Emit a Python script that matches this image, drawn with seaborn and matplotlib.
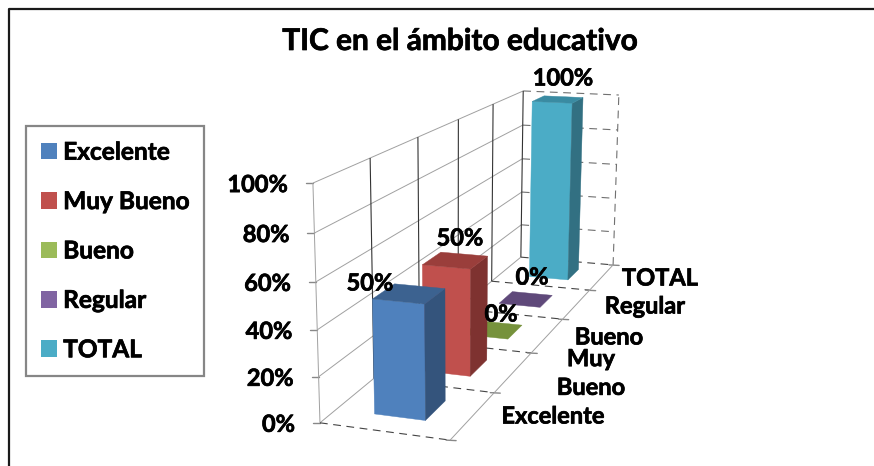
import numpy as np
import seaborn as sns
import matplotlib
matplotlib.use("Agg")
import matplotlib.pyplot as plt
import matplotlib.patheffects as pe
from matplotlib.patches import Polygon, Patch

categories = ["Excelente", "Muy Bueno", "Bueno", "Regular", "TOTAL"]
values = [0.5, 0.5, 0.0, 0.0, 1.0]
value_labels = ["50%", "50%", "0%", "0%", "100%"]
z_ticks = [0.0, 0.2, 0.4, 0.6, 0.8, 1.0]
z_tick_labels = ["0%", "20%", "40%", "60%", "80%", "100%"]

front_colors = ["#4F81BD", "#C0504D", "#9BBB59", "#8064A2", "#4BACC6"]
side_colors = ["#34547C", "#7E3230", "#657B39", "#54426B", "#327082"]
top_colors = ["#3C6290", "#9A3E3B", "#76923C", "#5F497A", "#3A8BA2"]

sns.set_theme(style="white")
plt.rcParams["font.family"] = ["Lato", "DejaVu Sans"]
plt.rcParams["text.color"] = "black"

# Lato bold is a bit lighter than the original, thicken it slightly
thick = [pe.withStroke(linewidth=0.5, foreground="black")]

# box corners (x, depth, z) -> where they sit on the picture, used to fit the 3d view
box_corners = [(0, 0, 0), (1, 0, 0), (1, 5, 0), (0, 5, 0), (0, 0, 1), (0, 5, 1), (1, 5, 1)]
box_pixels = [(320, 423), (450, 440), (613, 265), (521, 257), (313, 183), (523, 91), (619, 95)]

rows = []
rhs = []
for (x, y, z), (u, v) in zip(box_corners, box_pixels):
    rows.append([x, y, z, 1, 0, 0, 0, 0, -u * x, -u * y, -u * z])
    rows.append([0, 0, 0, 0, x, y, z, 1, -v * x, -v * y, -v * z])
    rhs += [u, v]
P = np.linalg.lstsq(np.array(rows, float), np.array(rhs, float), rcond=None)[0]
P = np.append(P, 1).reshape(3, 4)


def project(x, y, z):
    p = P @ np.array([x, y, z, 1.0])
    return p[0] / p[2], p[1] / p[2]


fig = plt.figure(figsize=(8.74, 4.66), dpi=100)
ax = fig.add_axes([0, 0, 1, 1])
ax.set_xlim(0, 874)
ax.set_ylim(466, 0)
ax.axis("off")


def line3d(a, b, **kw):
    pa, pb = project(*a), project(*b)
    ax.plot([pa[0], pb[0]], [pa[1], pb[1]], solid_capstyle="butt", **kw)


def face(pts, color, zorder):
    ax.add_patch(Polygon([project(*p) for p in pts], closed=True, facecolor=color,
                         edgecolor=color, lw=0.3, zorder=zorder))


# outer frame, only top and left show
ax.plot([9, 9, 874], [466, 9, 9], color="#1a1a1a", lw=1.6)

# walls
wall = dict(color="#a0a0a0", lw=0.7, zorder=1)
dash = dict(color="#707070", lw=0.8, ls=(0, (7, 5)), zorder=1)
for z in z_ticks:
    line3d((0, 0, z), (0, 5, z), **wall)
    if z > 0:
        line3d((0, 5, z), (1, 5, z), **dash)
    # ticks on the value axis
    px, py = project(0, 0, z)
    ax.plot([px - 7, px], [py, py], color="#888888", lw=1, zorder=1)
for d in range(1, 6):
    line3d((0, d, 0), (0, d, 1), color="#333333", lw=0.8, zorder=1)
line3d((1, 5, 0), (1, 5, 1), **dash)
line3d((0, 0, 0), (0, 0, 1), **wall)

# floor
for d in range(0, 6):
    line3d((0, d, 0), (1, d, 0), color="#444444", lw=0.8, ls=(0, (7, 5)), zorder=1)
    px, py = project(1, d, 0)
    ax.plot([px - 4, px + 6], [py, py + 0.5], color="#888888", lw=1, zorder=1)
line3d((1, 0, 0), (1, 5, 0), **wall)

# bars, back to front
x0, x1 = 0.305, 0.705
label_pos = [(370, 283), (460, 238), (501, 314), (532, 277), (563, 78)]
for i in range(len(values) - 1, -1, -1):
    v = values[i]
    y0, y1 = i + 0.29, i + 0.71
    zo = 10 + (len(values) - i)
    if v > 0:
        face([(x0, y0, 0), (x1, y0, 0), (x1, y0, v), (x0, y0, v)], front_colors[i], zo)
        face([(x1, y0, 0), (x1, y1, 0), (x1, y1, v), (x1, y0, v)], side_colors[i], zo)
    face([(x0, y0, v), (x1, y0, v), (x1, y1, v), (x0, y1, v)], top_colors[i], zo)
    ax.text(label_pos[i][0], label_pos[i][1], value_labels[i], ha="center", va="center",
            fontsize=17, fontweight="bold", color="black", zorder=30, path_effects=thick)

# value axis labels
for z, lab in zip(z_ticks, z_tick_labels):
    px, py = project(0, 0, z)
    ax.text(px - 25, py + 1.5, lab, ha="right", va="center", fontsize=17, fontweight="bold",
            color="black", path_effects=thick)

# category labels on the floor edge
cat_pos = [(553, 416), (591, 373), (609, 337), (645, 306), (660, 278)]
cat_text = ["Excelente", "Muy\nBueno", "Bueno", "Regular", "TOTAL"]
for (cx, cy), lab in zip(cat_pos, cat_text):
    ax.text(cx, cy, lab, ha="center", va="center", fontsize=17, fontweight="bold",
            color="black", linespacing=1.3, path_effects=thick)

ax.text(460, 41, "TIC en el ámbito educativo", ha="center", va="center", fontsize=21.5,
        fontweight="bold", color="black", path_effects=thick)

handles = [Patch(facecolor=c, edgecolor="none", label=n) for c, n in zip(front_colors, categories)]
leg = ax.legend(handles=handles, loc="upper left", bbox_to_anchor=(26 / 874, 1 - 126 / 466),
                borderaxespad=0, fancybox=False, edgecolor="#868686", framealpha=1,
                prop=dict(family="Lato", weight="bold", size=17.6), labelspacing=1.08,
                handlelength=0.68, handleheight=0.68, handletextpad=0.24, borderpad=0.6,
                labelcolor="black")
leg.get_frame().set_linewidth(1.6)
for t in leg.get_texts():
    t.set_path_effects(thick)

fig.savefig("out.png", dpi=100)
